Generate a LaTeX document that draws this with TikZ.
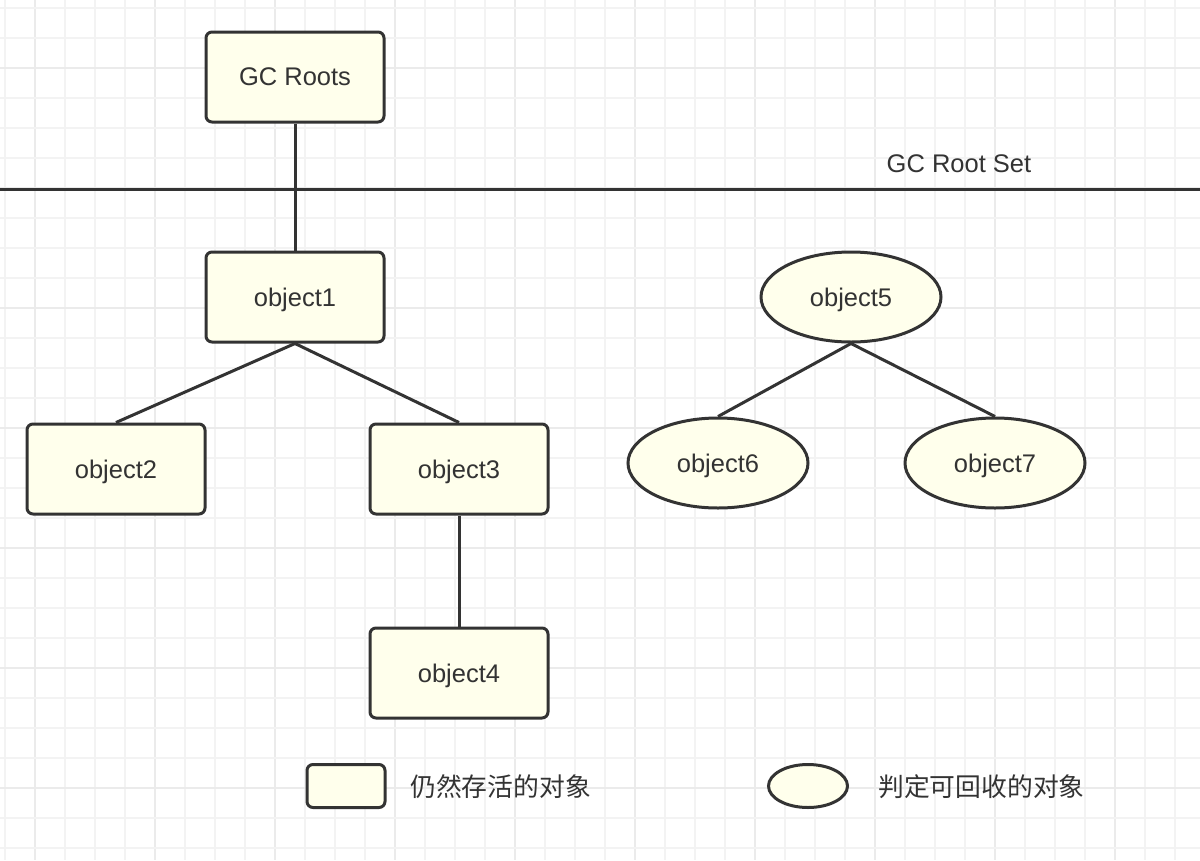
\documentclass[tikz,border=0pt]{standalone}
\usepackage{fontspec}
\setmainfont{Liberation Sans}
\newfontfamily\cjk{Noto Sans CJK SC}
\usetikzlibrary{shapes.geometric}
\definecolor{fillc}{RGB}{255,255,236}
\definecolor{edgec}{RGB}{51,51,51}
\definecolor{gridminor}{RGB}{243,243,243}
\definecolor{gridmajor}{RGB}{235,235,235}
\begin{document}
\begin{tikzpicture}[x=1pt,y=-1pt,
  every node/.style={font=\fontsize{25.5}{29}\selectfont, text=edgec},
  objbox/.style={draw=edgec, line width=3pt, fill=fillc, rounded corners=6pt,
    minimum width=178pt, minimum height=90pt, inner sep=0pt, text depth=0pt},
  objell/.style={draw=edgec, line width=3pt, fill=fillc, ellipse,
    minimum width=180pt, minimum height=90pt, inner sep=0pt, text depth=0pt},
  legbox/.style={draw=edgec, line width=3pt, fill=fillc, rounded corners=6pt,
    minimum width=78pt, minimum height=43pt, inner sep=0pt},
  legell/.style={draw=edgec, line width=3pt, fill=fillc, ellipse,
    minimum width=79pt, minimum height=43pt, inner sep=0pt},
  link/.style={draw=edgec, line width=3pt},
  legtext/.style={anchor=west, font=\cjk\fontsize{25.8}{29}\selectfont, inner sep=0pt}
]
\useasboundingbox (0,0) rectangle (1200,860);
\fill[white] (0,0) rectangle (1200,860);
% grid
\foreach \i in {0,...,39} {
  \pgfmathtruncatemacro{\m}{mod(\i,4)}
  \ifnum\m=1
    \draw[gridmajor, line width=1.5pt] ({5+30*\i},0) -- ({5+30*\i},860);
  \else
    \draw[gridminor, line width=1.5pt] ({5+30*\i},0) -- ({5+30*\i},860);
  \fi
}
\foreach \j in {0,...,28} {
  \pgfmathtruncatemacro{\m}{mod(\j,4)}
  \ifnum\m=2
    \draw[gridmajor, line width=1.5pt] (0,{8+30*\j}) -- (1200,{8+30*\j});
  \else
    \draw[gridminor, line width=1.5pt] (0,{8+30*\j}) -- (1200,{8+30*\j});
  \fi
}
% root set line
\coordinate (setL) at (0,189);
\coordinate (setR) at (1200,189);
\draw[link] (setL) -- (setR);
\node (setlabel) at (959,164) {GC Root Set};
% nodes
\node[objbox] (roots) at (295,77) {GC Roots};
\node[objbox] (o1) at (295,297) {object1};
\node[objbox] (o2) at (116,469) {object2};
\node[objbox] (o3) at (459,469) {object3};
\node[objbox] (o4) at (459,673) {object4};
\node[objell] (o5) at (851,297) {object5};
\node[objell] (o6) at (718,463) {object6};
\node[objell] (o7) at (995,463) {object7};
% links
\draw[link] (roots.south) -- (o1.north);
\draw[link] (o1.south) -- (o2.north);
\draw[link] (o1.south) -- (o3.north);
\draw[link] (o3.south) -- (o4.north);
\draw[link] (o5.south) -- (o6.north);
\draw[link] (o5.south) -- (o7.north);
% legend
\node[legbox] (lb) at (346,786) {};
\node[legtext] (lbt) at (410,787) {仍然存活的对象};
\node[legell] (le) at (808,786) {};
\node[legtext] (let) at (878,787) {判定可回收的对象};
\end{tikzpicture}
\end{document}
